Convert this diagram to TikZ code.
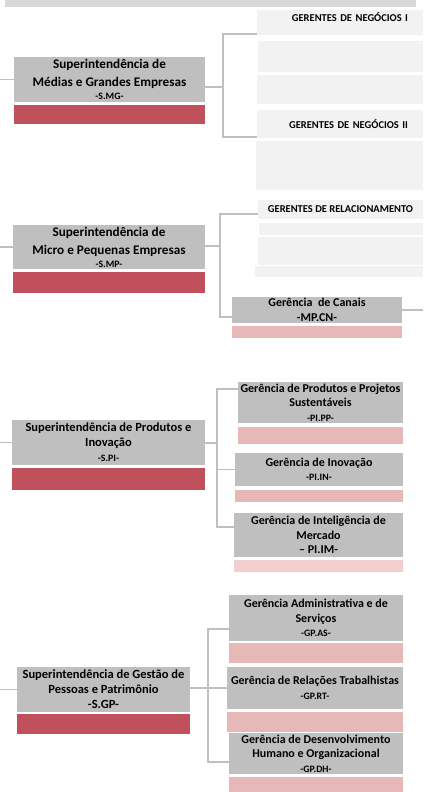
\documentclass[tikz,border=0pt]{standalone}
\usepackage{fontspec}
\setmainfont{Carlito}
\usetikzlibrary{positioning}
\definecolor{barGray}{HTML}{D9D9D9}
\definecolor{boxGray}{HTML}{BFBFBF}
\definecolor{paleGray}{HTML}{F2F2F2}
\definecolor{lineGray}{HTML}{C0C0C0}
\definecolor{supRed}{RGB}{192,80,92}
\definecolor{gerPink}{HTML}{E6B8B7}
\definecolor{gerPinkLight}{HTML}{F2D0CF}
\newcommand{\smallcode}[1]{{\fontsize{9.8}{11}\selectfont #1}}
\tikzset{
  supbox/.style={fill=boxGray, inner sep=0pt, outer sep=0pt, align=center, font=\fontsize{12.5}{15}\selectfont\bfseries},
  gerbox/.style={fill=boxGray, inner sep=0pt, outer sep=0pt, align=center, font=\fontsize{12}{14.5}\selectfont\bfseries},
  gtbox/.style={fill=paleGray, inner sep=0pt, outer sep=0pt, font=\fontsize{10.5}{12}\selectfont\bfseries},
  redbar/.style={fill=supRed, inner sep=0pt, outer sep=0pt},
  pinkbar/.style={fill=gerPink, inner sep=0pt, outer sep=0pt},
  conn/.style={draw=lineGray, line width=1.5pt}
}
\begin{document}
\begin{tikzpicture}[x=1pt, y=-1pt]
    \useasboundingbox (0,0) rectangle (423,792);
    \node (top) [fill=barGray, inner sep=0pt, minimum width=411, minimum height=7] at (210.5,3.5) {};

    \node (smg) [supbox, font=\fontsize{13.2}{15}\selectfont\bfseries, minimum width=191, minimum height=45] at (109.5,79.5) {Superintendência de\\[3pt]Médias e Grandes Empresas\\[-2pt]\smallcode{-S.MG-}};
    \node (smgbar) [redbar, minimum width=191, minimum height=19, below=3pt of smg] {};
    \node (gn1) [gtbox, minimum width=166, minimum height=25, text width=136pt, align=right, text height=8pt, text depth=10pt] at (340,22.5) {GERENTES DE NEGÓCIOS I};
    \node (gfill1) [gtbox, minimum width=165, minimum height=31] at (340.5,56.5) {};
    \node (gfill2) [gtbox, minimum width=166, minimum height=29] at (340,89.5) {};
    \node (gn2) [gtbox, minimum width=166, minimum height=28, text width=136pt, align=right] at (340,124) {GERENTES DE NEGÓCIOS II};
    \node (gfill3) [gtbox, minimum width=167, minimum height=49] at (339.5,165.5) {};

    \node (smp) [supbox, font=\fontsize{13.2}{15}\selectfont\bfseries, minimum width=192, minimum height=44] at (109,247) {Superintendência de\\[3pt]Micro e Pequenas Empresas\\[-2pt]\smallcode{-S.MP-}};
    \node (smpbar) [redbar, minimum width=192, minimum height=21, below=3pt of smp] {};
    \node (gr) [gtbox, minimum width=165, minimum height=19] at (340.5,209.5) {GERENTES DE RELACIONAMENTO};
    \node (gfill4) [gtbox, minimum width=164, minimum height=12] at (341,229) {};
    \node (gfill5) [gtbox, minimum width=165, minimum height=28] at (340.5,251) {};
    \node (gfill6) [gtbox, minimum width=168, minimum height=11] at (339,271.5) {};
    \node (cn) [gerbox, minimum width=170, minimum height=26] at (317,310) {Gerência~~de Canais\\-MP.CN-};
    \node (cnbar) [pinkbar, minimum width=170, minimum height=12, below=3pt of cn] {};

    \node (spi) [supbox, minimum width=193, minimum height=45] at (108.5,442.5) {Superintendência de Produtos e\\Inovação\\\smallcode{-S.PI-}};
    \node (spibar) [redbar, minimum width=193, minimum height=22, below=3pt of spi] {};
    \node (pp) [gerbox, minimum width=165, minimum height=41] at (320.5,402.5) {Gerência de Produtos e Projetos\\Sustentáveis\\\smallcode{-PI.PP-}};
    \node (ppbar) [pinkbar, minimum width=165, minimum height=17, below=4pt of pp] {};
    \node (inov) [gerbox, minimum width=168, minimum height=33] at (319,469.5) {Gerência de Inovação\\\smallcode{-PI.IN-}};
    \node (inovbar) [pinkbar, minimum width=168, minimum height=12, below=4pt of inov] {};
    \node (im) [gerbox, minimum width=169, minimum height=44] at (318.5,535) {Gerência de Inteligência de\\Mercado\\– PI.IM-};
    \node (imbar) [pinkbar, fill=gerPinkLight, minimum width=169, minimum height=12, below=3pt of im] {};

    \node (sgp) [supbox, minimum width=173, minimum height=45] at (103.5,689.5) {Superintendência de Gestão de\\Pessoas e Patrimônio\\-S.GP-};
    \node (sgpbar) [redbar, minimum width=173, minimum height=20, below=2pt of sgp] {};
    \node (adm) [gerbox, minimum width=174, minimum height=46] at (316,618) {Gerência Administrativa e de\\Serviços\\\smallcode{-GP.AS-}};
    \node (admbar) [pinkbar, minimum width=174, minimum height=20, below=2pt of adm] {};
    \node (rt) [gerbox, minimum width=176, minimum height=42] at (315,688) {Gerência de Relações Trabalhistas\\\smallcode{-GP.RT-}};
    \node (rtbar) [pinkbar, minimum width=176, minimum height=20, below=3pt of rt] {};
    \node (dh) [gerbox, minimum width=174, minimum height=41] at (316,753.5) {Gerência de Desenvolvimento\\Humano e Organizacional\\\smallcode{-GP.DH-}};
    \node (dhbar) [pinkbar, minimum width=174, minimum height=15, below=3pt of dh] {};

    \coordinate (lmg) at (0,79.5);
    \coordinate (lmp) at (0,247);
    \coordinate (lpi) at (0,442.5);
    \coordinate (lgp) at (0,689.5);
    \coordinate (rcn) at (423,310);

    \draw[conn] (lmg) -- (smg);
    \draw[conn] ([yshift=-7.5pt]smg.east) -- ++(18,0) coordinate (jmg);
    \draw[conn] (jmg) |- ([yshift=1pt]gn1.south west);
    \draw[conn] (jmg) |- ([yshift=1pt]gn2.south west);

    \draw[conn] (lmp) -- (smp);
    \draw[conn] ([yshift=1pt]smp.east) -- ++(15,0) coordinate (jmp);
    \draw[conn] (jmp) |- ([yshift=5pt]gr.south west);
    \draw[conn] (jmp) |- ([yshift=-7pt]cn.west);
    \draw[conn] (cn) -- (rcn);

    \draw[conn] (lpi) -- (spi);
    \draw[conn] ([yshift=-0.5pt]spi.east) -- ++(12,0) coordinate (jpi);
    \draw[conn] (jpi) |- ([yshift=-7pt]pp.north west);
    \draw[conn] (jpi) |- (inov.west);
    \draw[conn] (jpi) |- ([yshift=8pt]im.west);

    \draw[conn] (lgp) -- (sgp);
    \draw[conn] ([yshift=1.5pt]sgp.east) -- ++(18,0) coordinate (jgp) -- (rt.west);
    \draw[conn] (jgp) |- ([yshift=-11pt]adm.west);
    \draw[conn] (jgp) |- ([yshift=-8.5pt]dh.west);
\end{tikzpicture}
\end{document}
